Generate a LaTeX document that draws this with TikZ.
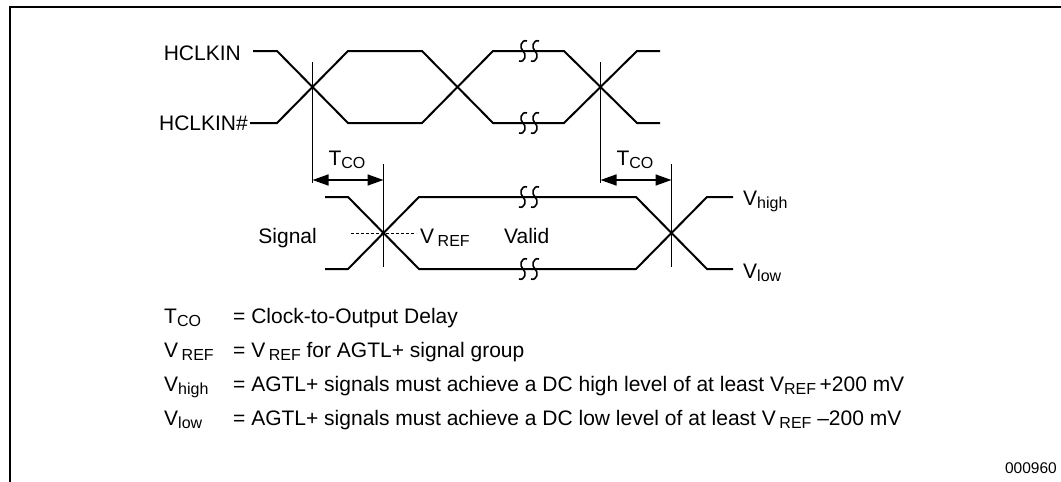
\documentclass[tikz,border=0pt]{standalone}
\usepackage{fontspec}
\setmainfont{Liberation Sans}
\usetikzlibrary{arrows.meta,positioning}
\tikzset{
  wave/.style={line width=2pt},
  guide/.style={line width=1.6pt},
  dim/.style={line width=1.6pt, {Triangle[length=16pt,width=11pt]}-{Triangle[length=16pt,width=11pt]}},
  lbl/.style={inner sep=0pt, font=\fontsize{21}{25}\selectfont},
  brk/.pic={\draw[line width=1.6pt] (4,-10) .. controls (-2,-12) and (-4,-3) .. (0,0) .. controls (4,3) and (2,12) .. (-4,10);}}
\newcommand{\sbs}[1]{\raisebox{-3.4pt}{\fontsize{16}{16}\selectfont #1}}
\begin{document}
\begin{tikzpicture}[x=1pt, y=-1pt]
\useasboundingbox (0,0) rectangle (1061,482);
\draw[line width=2.4pt] (10,482) -- (10,7) -- (1061,7);
% clock pair
\node[lbl, anchor=base east] (hclk) at (241,60) {HCLKIN};
\node[lbl, anchor=base east] (hclkn) at (248,130) {HCLKIN\#};
\draw[wave] (253,51) -- (277,51) -- (348,123) -- (422,123) -- (493,51) -- (564,51) -- (637,123) -- (660,123);
\draw[wave] (250,123) -- (277,123) -- (348,51) -- (422,51) -- (493,123) -- (564,123) -- (637,51) -- (660,51);
% output signal
\draw[wave] (325,197) -- (348,197) -- (419,269) -- (636,269) -- (707,197) -- (733,197);
\draw[wave] (325,269) -- (348,269) -- (419,197) -- (636,197) -- (707,269) -- (733,269);
\draw[line width=1pt, dash pattern=on 3pt off 2pt] (351,233) -- (416,233);
\foreach \y in {51,123,197,269} \foreach \x in {523,535} \pic at (\x,\y) {brk};
% reference lines and delays
\foreach \n/\x/\t/\b in {v1/312.5/62/183, v2/383.5/164/267, v3/600.5/62/183, v4/671.5/164/267} {
  \coordinate (\n t) at (\x,\t); \coordinate (\n b) at (\x,\b);
  \draw[guide] (\n t) -- (\n b);}
\coordinate (ar) at (0,180);
\draw[dim] (v1t |- ar) -- (v2t |- ar);
\draw[dim] (v3t |- ar) -- (v4t |- ar);
\node[lbl, anchor=base] (tco1) at (347,165) {T\sbs{CO}};
\node[lbl, anchor=base] (tco2) at (635,165) {T\sbs{CO}};
\node[lbl, anchor=base east] (sig) at (317,243) {Signal};
\node[lbl, anchor=base west] (vref) at (420,243) {V\,\sbs{REF}};
\node[lbl, anchor=base west] (valid) at (504,243) {Valid};
\node[lbl, anchor=base west] (vhigh) at (743,205) {V\sbs{high}};
\node[lbl, anchor=base west] (vlow) at (743,278) {V\sbs{low}};
% legend
\foreach \l/\t [count=\i from 0] in {T\sbs{CO}/Clock-to-Output Delay, V\,\sbs{REF}/V\,\sbs{REF} for AGTL+ signal group,
    V\sbs{high}/AGTL+ signals must achieve a DC high level of at least V\sbs{REF}\,+200 mV,
    V\sbs{low}/AGTL+ signals must achieve a DC low level of at least V\,\sbs{REF} --200 mV} {
  \node[lbl, anchor=base west] (k\i) at (164,323+34*\i) {\l};
  \node[lbl, anchor=base west] (d\i) at (233,323+34*\i) {= \t};}
\node[inner sep=0pt, anchor=base east, font=\fontsize{15.5}{18}\selectfont] (fig) at (1057,473) {000960};
\end{tikzpicture}
\end{document}
